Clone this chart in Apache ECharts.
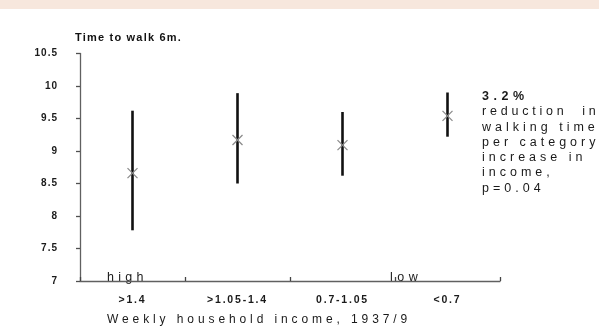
<!DOCTYPE html>
<html>
<head>
<meta charset="utf-8">
<script src="https://cdn.jsdelivr.net/npm/echarts@6/dist/echarts.min.js"></script>
<style>
html,body{margin:0;padding:0;background:#fff;}
#band{position:absolute;left:0;top:0;width:599px;height:9px;background:#f7e7dd;}
#chart{position:absolute;left:0;top:0;width:599px;height:329px;}
</style>
</head>
<body>
<div id="band"></div>
<div id="chart"></div>
<script>
// Data
const categories = ['>1.4', '>1.05-1.4', '0.7-1.05', '<0.7'];
const meanTime = [8.66, 9.17, 9.09, 9.54];
const lowTime = [7.78, 8.50, 8.62, 9.22];
const highTime = [9.62, 9.89, 9.60, 9.90];
const yTicks = { min: 7, max: 10.5, interval: 0.5 };
const yTitle = 'Time to walk 6m.';
const xTitle = 'Weekly household income, 1937/9';
const noteLines = ['3.2%', 'reduction\u00a0\u00a0in', 'walking time', 'per category', 'increase in', 'income,', 'p=0.04'];

const FONT = '"Liberation Sans", Arial, sans-serif';

// letter spacing per text (styling only)
const spacing = {};
spacing[yTitle] = 1.2;
spacing[xTitle] = 3.9;
spacing['high'] = 4.3;
spacing['low'] = 4.5;
noteLines.forEach(t => spacing[t] = 4);
spacing[noteLines[0]] = 4.5;
spacing[noteLines[1]] = 3.8;
categories.forEach(t => spacing[t] = 1.8);
(function () {
  const P = CanvasRenderingContext2D.prototype;
  const orig = P.fillText;
  P.fillText = function (t, x, y, mw) {
    const ls = spacing[t] !== undefined ? spacing[t] : 1;
    const prev = this.letterSpacing;
    try { this.letterSpacing = ls + 'px'; } catch (e) {}
    const r = mw === undefined ? orig.call(this, t, x, y) : orig.call(this, t, x, y, mw);
    try { this.letterSpacing = prev || '0px'; } catch (e) {}
    return r;
  };
})();

const chart = echarts.init(document.getElementById('chart'), null, { renderer: 'canvas' });

const seriesData = categories.map((c, i) => [i, lowTime[i], highTime[i], meanTime[i]]);

const noteGraphics = noteLines.map((t, i) => ({
  type: 'text', left: 482, top: 90 + i * 15.3,
  style: { text: t, fill: '#1a1a1a', font: (i === 0 ? 'bold ' : '') + '12.5px ' + FONT }
}));

chart.setOption({
  animation: false,
  grid: { left: 80, right: 99, top: 53.5, bottom: 48 },
  xAxis: {
    type: 'category', data: categories, boundaryGap: true,
    axisLine: { show: true, onZero: false, lineStyle: { color: '#606060', width: 1.3 } },
    axisTick: { show: true, inside: true, length: 4, lineStyle: { color: '#444', width: 1.3 } },
    axisLabel: { color: '#1a1a1a', fontFamily: FONT, fontWeight: 'bold', fontSize: 10.5, margin: 14 },
    splitLine: { show: false }
  },
  yAxis: {
    type: 'value', min: yTicks.min, max: yTicks.max, interval: yTicks.interval,
    axisLine: { show: true, onZero: false, lineStyle: { color: '#606060', width: 1.3 } },
    axisTick: { show: true, length: 4, lineStyle: { color: '#505050', width: 1.3 } },
    axisLabel: { color: '#1a1a1a', fontFamily: FONT, fontWeight: 'bold', fontSize: 10, margin: 22 },
    splitLine: { show: false }
  },
  series: [{
    type: 'custom',
    data: seriesData,
    renderItem: function (params, api) {
      const x = api.value(0);
      const pLow = api.coord([x, api.value(1)]);
      const pHigh = api.coord([x, api.value(2)]);
      const pMean = api.coord([x, api.value(3)]);
      const s = 5;
      return {
        type: 'group',
        children: [
          { type: 'line', shape: { x1: pLow[0], y1: pLow[1], x2: pHigh[0], y2: pHigh[1] },
            style: { stroke: '#111', lineWidth: 2.6 } },
          { type: 'line', shape: { x1: pMean[0] - s, y1: pMean[1] - s, x2: pMean[0] + s, y2: pMean[1] + s },
            style: { stroke: '#8a8a8a', lineWidth: 1.3 } },
          { type: 'line', shape: { x1: pMean[0] - s, y1: pMean[1] + s, x2: pMean[0] + s, y2: pMean[1] - s },
            style: { stroke: '#8a8a8a', lineWidth: 1.3 } }
        ]
      };
    }
  }],
  graphic: [
    { type: 'text', left: 75, top: 32, style: { text: yTitle, fill: '#111', font: 'bold 11px ' + FONT } },
    { type: 'text', left: 107, top: 314, style: { text: xTitle, fill: '#1a1a1a', font: '12px ' + FONT } },
    { type: 'text', left: 107, top: 271, style: { text: 'high', fill: '#1a1a1a', font: '12.5px ' + FONT } },
    { type: 'text', left: 390, top: 271, style: { text: 'low', fill: '#1a1a1a', font: '12.5px ' + FONT } }
  ].concat(noteGraphics)
});
</script>
</body>
</html>
